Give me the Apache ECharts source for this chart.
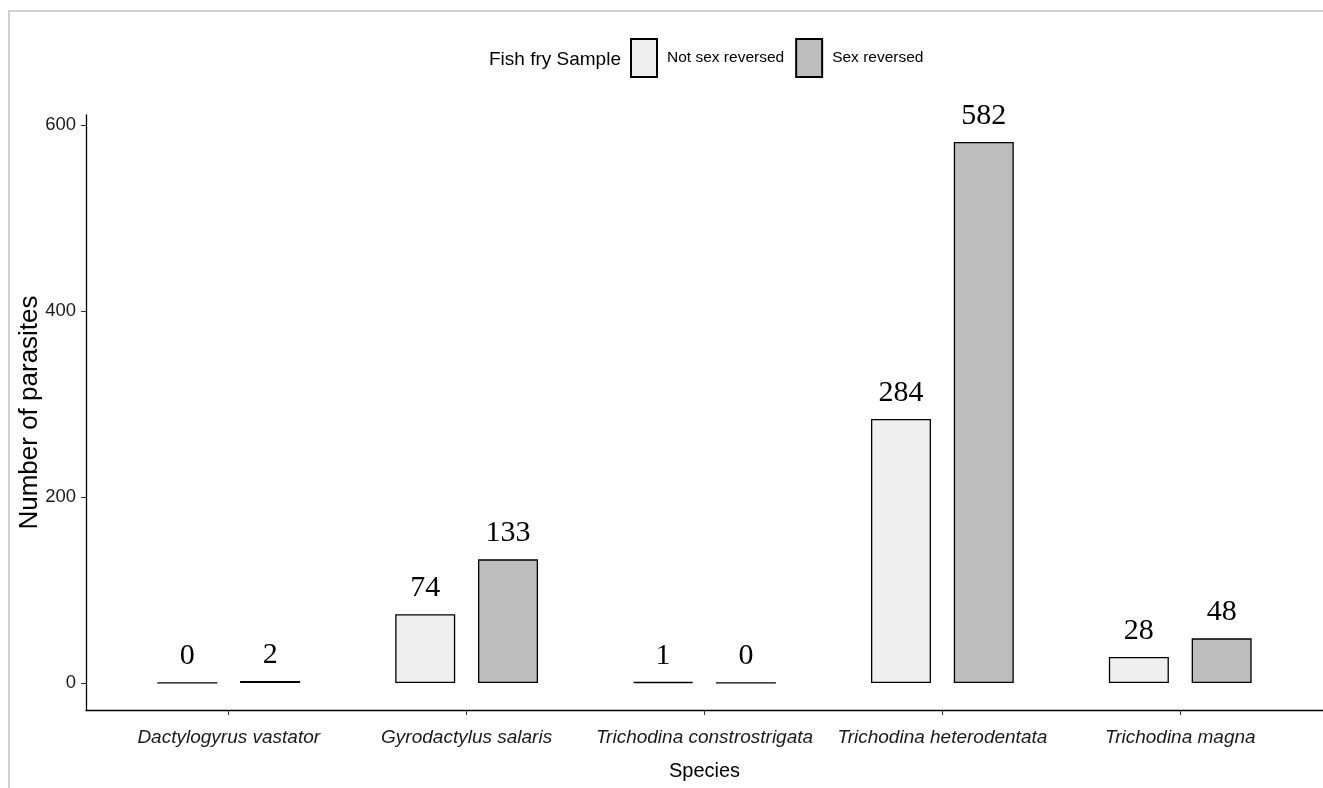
<!DOCTYPE html>
<html>
<head>
<meta charset="utf-8">
<script src="https://cdn.jsdelivr.net/npm/echarts@6/dist/echarts.min.js"></script>
<style>
html,body{margin:0;padding:0;background:#fff;}
#chart{width:1323px;height:788px;}
</style>
</head>
<body>
<div id="chart"></div>
<script>
const categories = ['Dactylogyrus vastator', 'Gyrodactylus salaris', 'Trichodina constrostrigata', 'Trichodina heterodentata', 'Trichodina magna'];
const notSexReversed = [0, 74, 1, 284, 28];
const sexReversed = [2, 133, 0, 582, 48];
const yTicks = [0, 200, 400, 600];
const seriesNames = ['Not sex reversed', 'Sex reversed'];

const sans = '"Liberation Sans", Arial, sans-serif';
const catIdx = categories.map((c, i) => i);

function pairs(vals) { return vals.map((v, i) => [i, v]); }

const labelStyle = {
  show: true, position: 'top', distance: 11,
  fontFamily: '"Liberation Serif", "Times New Roman", serif',
  fontSize: 30, color: '#000'
};

const chart = echarts.init(document.getElementById('chart'), null, {renderer: 'canvas'});
chart.setOption({
  animation: false,
  backgroundColor: '#fff',
  title: {
    text: 'Fish fry Sample', left: 489, top: 50, padding: 0,
    textStyle: {fontFamily: sans, fontSize: 19, fontWeight: 'normal', color: '#000'}
  },
  legend: {
    left: 630, top: 38, padding: 0,
    itemWidth: 26, itemHeight: 38, itemGap: 11,
    icon: 'rect',
    data: seriesNames,
    textStyle: {fontFamily: sans, fontSize: 15.5, color: '#000', padding: [6, 0, 0, 5]}
  },
  grid: {left: 86, right: 0, top: 115, bottom: 78, containLabel: false},
  xAxis: {
    type: 'value', min: -0.6, max: 4.6,
    name: 'Species', nameLocation: 'middle', nameGap: 51, nameMoveOverlap: false,
    nameTextStyle: {fontFamily: sans, fontSize: 20, color: '#000'},
    axisLine: {show: true, onZero: false, lineStyle: {color: '#000', width: 1.3}},
    axisTick: {show: true, length: 5, customValues: catIdx, lineStyle: {color: '#333'}},
    axisLabel: {
      customValues: catIdx, margin: 18,
      formatter: v => categories[Math.round(v)] || '',
      fontFamily: sans, fontStyle: 'italic', fontSize: 19, color: '#1a1a1a'
    },
    splitLine: {show: false}
  },
  yAxis: {
    type: 'value', min: -29.1, max: 611.1,
    name: 'Number of parasites', nameLocation: 'middle', nameGap: 43, nameRotate: 90,
    nameMoveOverlap: false,
    nameTextStyle: {fontFamily: sans, fontSize: 26, color: '#000'},
    axisLine: {show: true, onZero: false, lineStyle: {color: '#000', width: 1.3}},
    axisTick: {show: true, length: 5, customValues: yTicks, lineStyle: {color: '#333'}},
    axisLabel: {
      customValues: yTicks, margin: 10,
      fontFamily: sans, fontSize: 18.5, color: '#1a1a1a'
    },
    splitLine: {show: false}
  },
  series: [
    {
      name: seriesNames[0], type: 'bar', barWidth: 60, barGap: '38%',
      data: pairs(notSexReversed),
      itemStyle: {color: '#EFEFEF', borderColor: '#000', borderWidth: 1.3},
      label: labelStyle
    },
    {
      name: seriesNames[1], type: 'bar', barWidth: 60, barGap: '38%',
      data: pairs(sexReversed),
      itemStyle: {color: '#BDBDBD', borderColor: '#000', borderWidth: 1.3},
      label: labelStyle
    }
  ],
  graphic: [
    {type: 'line', shape: {x1: 9, y1: 11, x2: 9, y2: 788}, style: {stroke: '#d0d0d0', lineWidth: 2}, silent: true},
    {type: 'line', shape: {x1: 8, y1: 11, x2: 1323, y2: 11}, style: {stroke: '#d0d0d0', lineWidth: 2}, silent: true}
  ]
});
</script>
</body>
</html>
